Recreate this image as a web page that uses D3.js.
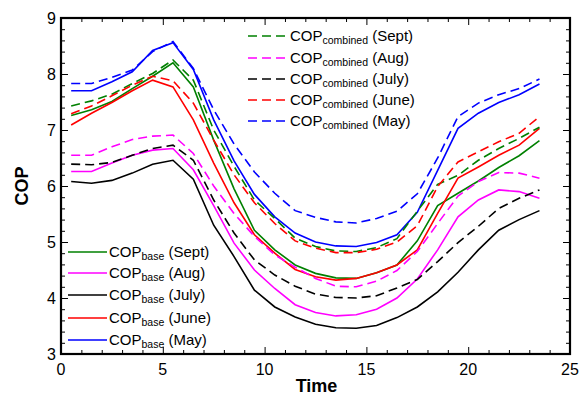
<!DOCTYPE html>
<html><head><meta charset="utf-8">
<script src="https://cdn.jsdelivr.net/npm/d3@7"></script>
<style>body{margin:0;background:#fff}text{font-family:"Liberation Sans",Arial,sans-serif}</style>
</head><body><svg id="c" width="579" height="398"></svg>
<script>
const hours = [0.5,1.5,2.5,3.5,4.5,5.5,6.5,7.5,8.5,9.5,10.5,11.5,12.5,13.5,14.5,15.5,16.5,17.5,18.5,19.5,20.5,21.5,22.5,23.5];
const xTicks = [0,5,10,15,20,25];
const yTicks = [3,4,5,6,7,8,9];

const combSept = [7.43,7.52,7.64,7.83,8.01,8.25,7.89,7.00,6.35,5.75,5.42,5.07,4.92,4.84,4.83,4.90,5.06,5.55,6.03,6.19,6.46,6.67,6.85,7.05];
const combAug  = [6.55,6.55,6.70,6.83,6.89,6.91,6.58,6.00,5.51,5.10,4.77,4.55,4.35,4.21,4.20,4.30,4.49,4.83,5.33,5.82,6.08,6.24,6.23,6.14];
const combJuly = [6.39,6.38,6.42,6.55,6.67,6.73,6.46,5.75,5.16,4.68,4.41,4.21,4.07,4.01,4.00,4.04,4.18,4.33,4.65,4.99,5.28,5.60,5.78,5.93];
const combJune = [7.29,7.43,7.61,7.80,7.96,7.88,7.48,6.82,6.20,5.70,5.33,5.02,4.89,4.81,4.81,4.87,5.00,5.29,5.99,6.43,6.61,6.79,6.94,7.24];
const combMay  = [7.83,7.83,7.94,8.07,8.40,8.58,8.10,7.36,6.75,6.25,5.87,5.56,5.44,5.36,5.34,5.42,5.55,5.86,6.50,7.24,7.48,7.63,7.74,7.91];

const baseSept = [7.26,7.36,7.51,7.74,7.96,8.20,7.77,6.82,5.95,5.21,4.86,4.59,4.44,4.36,4.35,4.45,4.59,5.02,5.65,5.87,6.09,6.33,6.54,6.81];
const baseAug  = [6.26,6.26,6.41,6.55,6.64,6.67,6.29,5.65,4.98,4.50,4.17,3.88,3.74,3.68,3.70,3.80,4.00,4.34,4.86,5.45,5.75,5.93,5.90,5.78];
const baseJuly = [6.08,6.05,6.10,6.23,6.39,6.46,6.12,5.30,4.74,4.14,3.84,3.66,3.53,3.47,3.46,3.51,3.65,3.84,4.11,4.46,4.86,5.21,5.40,5.56];
const baseJune = [7.09,7.30,7.49,7.70,7.89,7.77,7.18,6.41,5.70,5.13,4.80,4.51,4.38,4.32,4.35,4.45,4.59,4.86,5.51,6.14,6.34,6.55,6.73,7.03];
const baseMay  = [7.70,7.70,7.86,8.04,8.42,8.56,8.08,7.18,6.45,5.85,5.45,5.16,5.00,4.93,4.92,4.99,5.13,5.53,6.28,7.03,7.30,7.49,7.63,7.82];

const months = ["Sept","Aug","July","June","May"];
const colors = ["#008000","#ff00ff","#000000","#ff0000","#0000ff"];
const combined = [combSept,combAug,combJuly,combJune,combMay];
const base = [baseSept,baseAug,baseJuly,baseJune,baseMay];

const svg = d3.select("#c");
const L=61,R=570,T=18,B=354;
const x = d3.scaleLinear().domain([0,25]).range([L,R]);
const y = d3.scaleLinear().domain([3,9]).range([B,T]);

const line = d3.line().x((d,i)=>x(hours[i])).y(d=>y(d));

base.forEach((s,k)=>{
  svg.append("path").datum(s).attr("d",line).attr("fill","none")
    .attr("stroke",colors[k]).attr("stroke-width",1.6);
});
combined.forEach((s,k)=>{
  svg.append("path").datum(s).attr("d",line).attr("fill","none")
    .attr("stroke",colors[k]).attr("stroke-width",1.6).attr("stroke-dasharray","9,5");
});

const gB = svg.append("g").attr("transform",`translate(0,${B})`);
gB.call(d3.axisBottom(x).tickValues(d3.range(0,26,1)).tickSize(-4).tickFormat(""));
gB.call(g=>g.selectAll(".tick line").filter(d=>d%5===0).attr("y2",-7));
const gT = svg.append("g").attr("transform",`translate(0,${T})`);
gT.call(d3.axisTop(x).tickValues(d3.range(0,26,1)).tickSize(-4).tickFormat(""));
gT.call(g=>g.selectAll(".tick line").filter(d=>d%5===0).attr("y2",7));
const yMinor = d3.range(30,91,2).map(v=>v/10);
const gL = svg.append("g").attr("transform",`translate(${L},0)`);
gL.call(d3.axisLeft(y).tickValues(yMinor).tickSize(-4).tickFormat(""));
gL.call(g=>g.selectAll(".tick line").filter(d=>Math.abs(d-Math.round(d))<1e-6).attr("x2",7));
const gR = svg.append("g").attr("transform",`translate(${R},0)`);
gR.call(d3.axisRight(y).tickValues(yMinor).tickSize(-4).tickFormat(""));
gR.call(g=>g.selectAll(".tick line").filter(d=>Math.abs(d-Math.round(d))<1e-6).attr("x2",-7));
svg.selectAll(".domain").remove();
svg.selectAll(".tick line").attr("stroke","#000").attr("stroke-width",1);

svg.append("rect").attr("x",L).attr("y",T).attr("width",R-L).attr("height",B-T)
  .attr("fill","none").attr("stroke","#000").attr("stroke-width",2.2);

svg.selectAll(".xl").data(xTicks).enter().append("text")
  .attr("x",d=>x(d)).attr("y",B+21).attr("text-anchor","middle")
  .attr("font-size",16).text(d=>d);
svg.selectAll(".yl").data(yTicks).enter().append("text")
  .attr("x",L-5).attr("y",d=>y(d)+6).attr("text-anchor","end")
  .attr("font-size",16).text(d=>d);

svg.append("text").attr("x",(L+R)/2+1).attr("y",392).attr("text-anchor","middle")
  .attr("font-size",18).attr("font-weight","bold").text("Time");
svg.append("text").attr("transform",`translate(28,${(T+B)/2}) rotate(-90)`)
  .attr("text-anchor","middle").attr("font-size",18).attr("font-weight","bold").text("COP");

function legend(x0, x1, ys, sub, dashed){
  months.forEach((m,k)=>{
    const yy = ys[k];
    const l = svg.append("line").attr("x1",x0).attr("x2",x1).attr("y1",yy).attr("y2",yy)
      .attr("stroke",colors[k]).attr("stroke-width",1.6);
    if(dashed) l.attr("stroke-dasharray","9,5");
    const t = svg.append("text").attr("x",x1+2).attr("y",yy+5).attr("font-size",15);
    t.append("tspan").text("COP");
    t.append("tspan").attr("font-size",10.5).attr("dy",3).text(sub);
    t.append("tspan").attr("dy",-3).text(" ("+m+")");
  });
}
legend(248,288,[36,58,79,100,121],"combined",true);
legend(68,107,[252,273,295,318,340],"base",false);
</script></body></html>
